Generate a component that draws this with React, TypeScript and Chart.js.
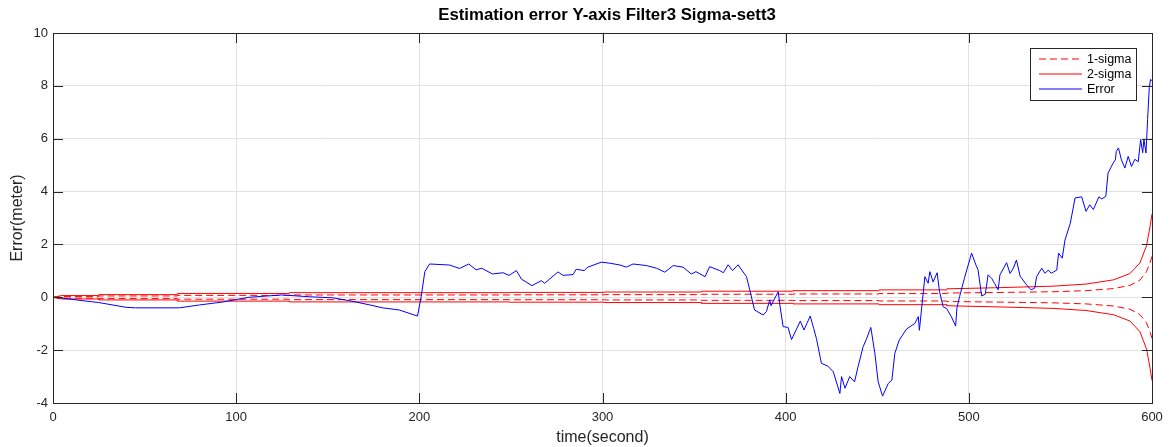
import React, { useEffect, useRef } from "react";
import { Chart, registerables } from "chart.js";

Chart.register(...registerables);

const chartTitle = "Estimation error Y-axis Filter3 Sigma-sett3";
const xLabel = "time(second)";
const yLabel = "Error(meter)";
const legendLabels = ["1-sigma", "2-sigma", "Error"];
const xTicks = [0, 100, 200, 300, 400, 500, 600];
const yTicks = [-4, -2, 0, 2, 4, 6, 8, 10];

const errTime = [
  0, 5, 12.7, 25, 40, 45, 69, 80, 92.6, 107, 125, 140, 152.7, 162, 173, 180, 189, 199, 201, 203,
  205.6, 216.5, 222, 227, 231, 234, 240, 245.6, 249, 253, 255.7, 261.5, 266.6, 268.4, 275.7, 278.4,
  283.9, 285.7, 290, 292, 299.4, 304, 309.6, 313, 316.7, 324, 329.5, 334, 338.6, 344, 348.5, 351,
  356, 358.5, 364, 366, 368.6, 371, 374, 378.6, 380.4, 383, 387.7, 389.5, 391.3, 392, 395.9, 397,
  398.6, 401.3, 403.2, 408, 410, 411.6, 413.4, 415.3, 416.8, 419.5, 423, 426, 429.6, 430.5, 432.4,
  435, 437.6, 439.5, 442.3, 444, 446.5, 448.7, 450.5, 452.9, 456, 458, 459.6, 462, 466, 470.5,
  472.4, 473, 474.7, 476, 477.8, 478.7, 480.5, 482.7, 484, 486, 487.8, 490.5, 492.8, 493.5, 495,
  497.6, 501.5, 504, 505, 507, 509, 510.5, 512.5, 514, 516, 517, 520.6, 522.5, 524.3, 526, 528,
  531.5, 534, 536, 537, 539.8, 541.6, 543.4, 545, 548, 549, 551, 552.5, 555.4, 558, 561.6, 564,
  566, 568, 571, 572.6, 574.8, 576, 578.8, 580, 580.5, 581.7, 583.3, 585.2, 587, 588.8, 590.6,
  592.5, 593.8, 594.9, 595.6, 596.7, 597.6, 598.5, 599.2, 600,
];
const errValue = [
  0, -0.03, -0.1, -0.2, -0.38, -0.4, -0.4, -0.29, -0.18, 0, 0.09, 0.02, -0.02, -0.13, -0.29, -0.4,
  -0.48, -0.71, 0.02, 0.97, 1.26, 1.22, 1.09, 1.26, 1.04, 1.1, 0.88, 0.93, 0.83, 1.01, 0.69, 0.44,
  0.63, 0.53, 0.96, 0.83, 0.86, 1.06, 1.01, 1.14, 1.33, 1.29, 1.22, 1.14, 1.26, 1.2, 1.1, 0.95, 1.2,
  1.14, 0.88, 0.97, 0.78, 1.16, 1.01, 0.93, 1.23, 1.01, 1.23, 0.78, 0.28, -0.48, -0.67, -0.54, -0.1,
  -0.32, 0.21, -0.37, -1.11, -1.14, -1.6, -0.9, -1.24, -0.99, -0.71, -1.18, -1.56, -2.5, -2.6, -2.82,
  -3.64, -3.0, -3.44, -3.0, -3.2, -2.63, -1.87, -1.6, -1.14, -2.12, -3.2, -3.74, -3.26, -3.13, -2.12,
  -1.62, -1.2, -0.99, -0.73, -1.25, -0.1, 0.78, 0.53, 0.97, 0.58, 0.93, 0.21, -0.36, -0.42, -0.74,
  -1.09, -0.4, 0.04, 0.72, 1.67, 1.2, 1.05, 0.05, 0.12, 0.85, 0.71, 0.53, 0.28, 0.85, 1.31, 0.9, 1.1,
  1.41, 0.8, 0.47, 0.28, 0.35, 0.78, 1.1, 0.91, 1.03, 0.91, 1.03, 1.67, 1.48, 2.17, 2.8, 3.76, 3.8,
  3.25, 3.5, 3.32, 3.8, 3.72, 3.82, 4.7, 5.08, 5.2, 5.52, 5.65, 5.2, 4.89, 5.33, 4.95, 5.22, 5.13,
  5.97, 5.47, 5.97, 5.46, 6.73, 7.93, 8.24, 8.2,
];

const sigmaTime = [
  0, 2, 5, 24.9, 25, 67.9, 68, 128.9, 129, 248.9, 249, 300.9, 301, 353.9, 354, 403.9, 404, 450.9,
  451, 487.9, 488, 514, 530, 546, 564, 579, 588, 593.4, 597, 599, 600,
];
const twoSigma = [
  0, 0.03, 0.065, 0.065, 0.1, 0.1, 0.145, 0.145, 0.175, 0.175, 0.185, 0.185, 0.2, 0.2, 0.23, 0.23,
  0.25, 0.25, 0.28, 0.28, 0.32, 0.36, 0.39, 0.42, 0.5, 0.66, 0.9, 1.3, 1.95, 2.7, 3.15,
];
const oneSigma = [
  0, 0.015, 0.033, 0.033, 0.05, 0.05, 0.072, 0.072, 0.088, 0.088, 0.093, 0.093, 0.1, 0.1, 0.115,
  0.115, 0.125, 0.125, 0.14, 0.14, 0.16, 0.18, 0.195, 0.21, 0.25, 0.33, 0.45, 0.65, 0.97, 1.33, 1.55,
];

const FONT = "'Liberation Sans', Arial, Helvetica, sans-serif";
const AXIS_COLOR = "#262626";
const DASH = [7, 4];

const decorPlugin = {
  id: "matlabDecor",
  afterDraw(chart: any) {
    const { ctx, chartArea } = chart;
    const { left, right, top, bottom } = chartArea;
    const xs = chart.scales.x;
    const ys = chart.scales.y;
    ctx.save();
    ctx.setLineDash([]);
    // border
    ctx.strokeStyle = AXIS_COLOR;
    ctx.lineWidth = 1;
    ctx.strokeRect(Math.round(left) + 0.5, Math.round(top) + 0.5, Math.round(right - left), Math.round(bottom - top));
    // inward ticks
    const tl = 10;
    ctx.beginPath();
    xTicks.forEach((t) => {
      const px = Math.round(xs.getPixelForValue(t)) + 0.5;
      ctx.moveTo(px, bottom);
      ctx.lineTo(px, bottom - tl);
      ctx.moveTo(px, top);
      ctx.lineTo(px, top + tl);
    });
    yTicks.forEach((t) => {
      const py = Math.round(ys.getPixelForValue(t)) + 0.5;
      ctx.moveTo(left, py);
      ctx.lineTo(left + tl, py);
      ctx.moveTo(right, py);
      ctx.lineTo(right - tl, py);
    });
    ctx.stroke();
    // title
    ctx.fillStyle = "#000";
    ctx.font = `bold 16.8px ${FONT}`;
    ctx.textAlign = "center";
    ctx.textBaseline = "middle";
    ctx.fillText(chartTitle, 607, 15);
    // axis labels
    ctx.fillStyle = AXIS_COLOR;
    ctx.font = `16px ${FONT}`;
    ctx.fillText(xLabel, (left + right) / 2, 438);
    ctx.save();
    ctx.translate(17.5, (top + bottom) / 2);
    ctx.rotate(-Math.PI / 2);
    ctx.fillText(yLabel, 0, 0);
    ctx.restore();
    // legend box
    const bx = 1030.5, by = 48.5, bw = 106, bh = 52;
    ctx.fillStyle = "#fff";
    ctx.fillRect(bx, by, bw, bh);
    ctx.strokeStyle = AXIS_COLOR;
    ctx.strokeRect(bx, by, bw, bh);
    const rows = [59, 74, 89];
    const colors = ["#ff0000", "#ff0000", "#0000ff"];
    const dashes = [DASH, [], []];
    for (let i = 0; i < rows.length; i++) {
      ctx.save();
      ctx.lineWidth = 1.2;
      ctx.setLineDash(dashes[i]);
      ctx.strokeStyle = colors[i];
      ctx.beginPath();
      ctx.moveTo(1039, rows[i]);
      ctx.lineTo(1082, rows[i]);
      ctx.stroke();
      ctx.restore();
    }
    ctx.font = `12.5px ${FONT}`;
    ctx.textAlign = "left";
    ctx.fillStyle = "#000";
    for (let i = 0; i < rows.length; i++) {
      ctx.fillText(legendLabels[i], 1087, rows[i] + 1);
    }
    ctx.restore();
  },
};

export default function App() {
  const ref = useRef<HTMLCanvasElement | null>(null);
  useEffect(() => {
    document.body.style.margin = "0";
    if (!ref.current) return;
    const errData = errTime.map((t, i) => ({ x: t, y: errValue[i] }));
    const up2 = sigmaTime.map((t, i) => ({ x: t, y: twoSigma[i] }));
    const lo2 = sigmaTime.map((t, i) => ({ x: t, y: -twoSigma[i] }));
    const up1 = sigmaTime.map((t, i) => ({ x: t, y: oneSigma[i] }));
    const lo1 = sigmaTime.map((t, i) => ({ x: t, y: -oneSigma[i] }));
    const base = { pointRadius: 0, borderWidth: 1, tension: 0, fill: false };
    const chart = new Chart(ref.current, {
      type: "line",
      data: {
        datasets: [
          { ...base, label: "Error", data: errData, borderColor: "#0000ff" },
          { ...base, label: "1-sigma", data: up1, borderColor: "#ff0000", borderDash: DASH },
          { ...base, label: "1-sigma lower", data: lo1, borderColor: "#ff0000", borderDash: DASH },
          { ...base, label: "2-sigma", data: up2, borderColor: "#ff0000" },
          { ...base, label: "2-sigma lower", data: lo2, borderColor: "#ff0000" },
        ],
      },
      options: {
        animation: false,
        responsive: false,
        devicePixelRatio: 1,
        layout: { padding: { top: 33, right: 18, left: 0, bottom: 0 } },
        plugins: { legend: { display: false }, title: { display: false }, tooltip: { enabled: false } },
        scales: {
          x: {
            type: "linear",
            min: 0,
            max: 600,
            afterBuildTicks: (s: any) => {
              s.ticks = xTicks.map((v) => ({ value: v }));
            },
            ticks: { font: { family: FONT, size: 13 }, color: AXIS_COLOR, padding: 7, maxRotation: 0 },
            grid: { color: "#e1e1e1", drawTicks: false, lineWidth: 1 },
            border: { display: false },
            afterFit: (s: any) => {
              s.height = 44;
            },
          },
          y: {
            type: "linear",
            min: -4,
            max: 10,
            afterBuildTicks: (s: any) => {
              s.ticks = yTicks.map((v) => ({ value: v }));
            },
            ticks: { font: { family: FONT, size: 13 }, color: AXIS_COLOR, padding: 5 },
            grid: { color: "#e1e1e1", drawTicks: false, lineWidth: 1 },
            border: { display: false },
            afterFit: (s: any) => {
              s.width = 53;
            },
          },
        },
      },
      plugins: [decorPlugin],
    });
    return () => chart.destroy();
  }, []);
  return (
    <div style={{ position: "absolute", left: 0, top: 0, width: 1170, height: 447, background: "#fff" }}>
      <canvas ref={ref} width={1170} height={447} style={{ width: 1170, height: 447, display: "block" }} />
    </div>
  );
}
